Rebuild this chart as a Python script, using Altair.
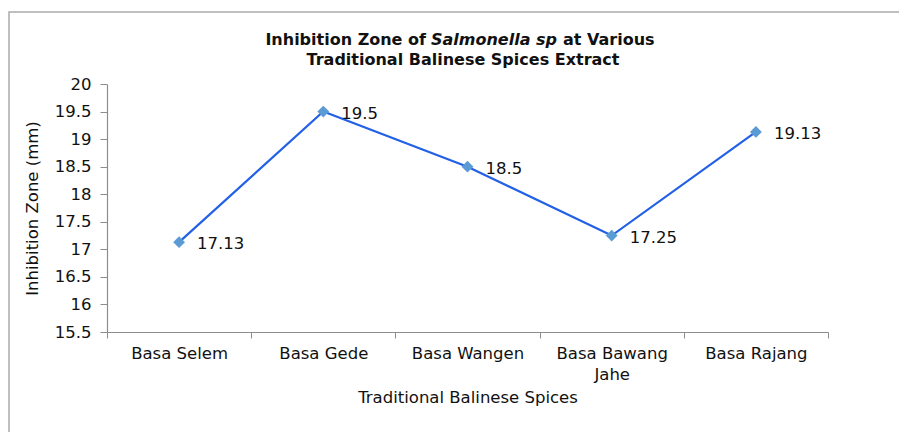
import altair as alt
import pandas as pd

categories = ["Basa Selem", "Basa Gede", "Basa Wangen", "Basa Bawang Jahe", "Basa Rajang"]
values = [17.13, 19.5, 18.5, 17.25, 19.13]
value_labels = ["17.13", "19.5", "18.5", "17.25", "19.13"]
y_ticks = [15.5, 16, 16.5, 17, 17.5, 18, 18.5, 19, 19.5, 20]

df = pd.DataFrame({"cat": categories, "val": values, "lab": value_labels})

FONT = "DejaVu Sans"
FS = 16.5
W, H = 721, 248

x_enc = alt.X(
    "cat:N", sort=categories, title="Traditional Balinese Spices",
    scale=alt.Scale(paddingInner=0, paddingOuter=0),
    axis=alt.Axis(
        labelAngle=0, tickBand="extent", labelPadding=7, titlePadding=7,
        labelLineHeight=21,
        labelExpr="datum.label == 'Basa Bawang Jahe' ? ['Basa Bawang', 'Jahe'] : datum.label",
    ),
)
y_enc = alt.Y(
    "val:Q", title="Inhibition Zone (mm)",
    scale=alt.Scale(domain=[15.5, 20], nice=False, zero=False),
    axis=alt.Axis(values=y_ticks, grid=False, labelPadding=9, titlePadding=14, tickSize=7,
                  labelExpr="datum.value"),
)

line = alt.Chart(df).mark_line(color="#2260e6", strokeWidth=2.2).encode(x=x_enc, y=y_enc)
pts = alt.Chart(df).mark_point(shape="diamond", filled=True, size=140, color="#5b9bd5", opacity=1).encode(x=x_enc, y=y_enc)
labels = alt.Chart(df).mark_text(align="left", baseline="middle", dx=18, dy=2, fontSize=FS,
                                  font=FONT, color="#111").encode(x=x_enc, y=y_enc, text="lab:N")

title_df = pd.DataFrame({"t": ["x"]})
def ttext(txt, x, y, italic=False, align="left"):
    return alt.Chart(title_df).mark_text(
        text=txt, align=align, baseline="alphabetic", fontSize=16, fontWeight="bold",
        fontStyle="italic" if italic else "normal", font=FONT, color="#111"
    ).encode(x=alt.value(x), y=alt.value(y))

t1 = ttext("Inhibition Zone of", 319, -39, align="right")
t2 = ttext("Salmonella sp", 324, -39, italic=True)
t3 = ttext("at Various", 456, -39)
t4 = ttext("Traditional Balinese Spices Extract", 356, -19, align="center")

border = alt.Chart(title_df).mark_rect(fill=None, stroke="#aaaaaa", strokeWidth=1.5).encode(
    x=alt.value(-98), x2=alt.value(820), y=alt.value(-72), y2=alt.value(400)
)

chart = alt.layer(border, line, pts, labels, t1, t2, t3, t4).properties(
    width=W, height=H,
    padding={"left": 99, "top": 76, "right": 71, "bottom": 100},
    autosize=alt.AutoSizeParams(type="none"),
).configure_view(stroke=None).configure_axis(
    domainColor="#8c8c8c", tickColor="#8c8c8c", tickSize=6, domainWidth=1.2,
    labelFont=FONT, titleFont=FONT, labelFontSize=FS, titleFontSize=FS,
    labelColor="#111", titleColor="#111", titleFontWeight="normal",
)

chart.save("out.html", embed_options={"renderer": "svg", "actions": False})
